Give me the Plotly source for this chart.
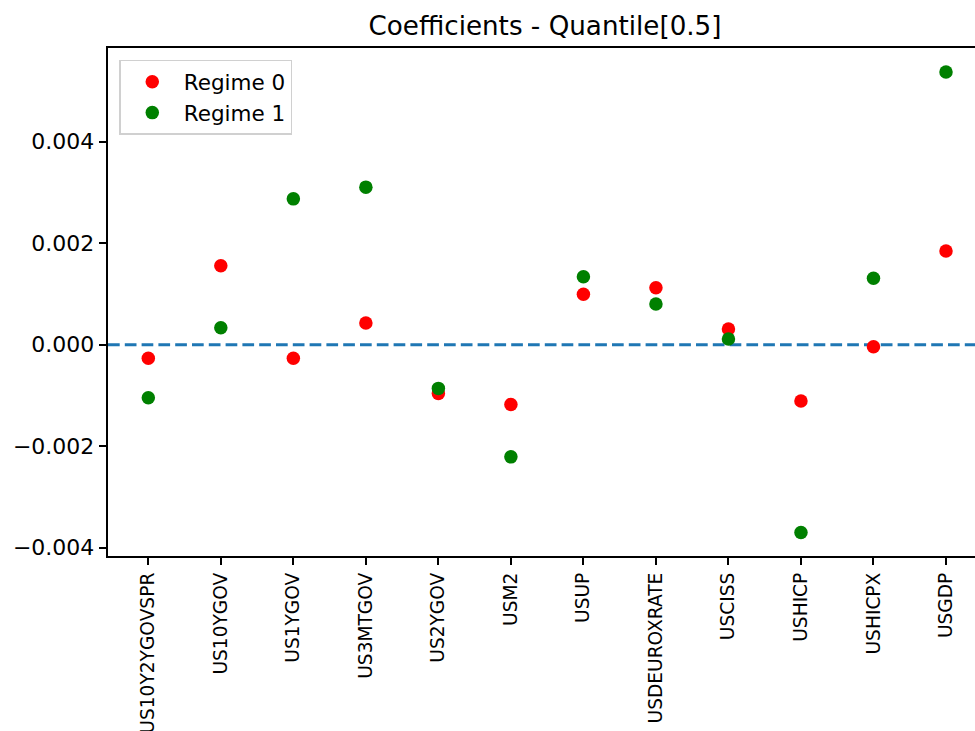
import plotly.graph_objects as go

# Regression coefficients at the median quantile, one column per predictor
variables = ["US10Y2YGOVSPR", "US10YGOV", "US1YGOV", "US3MTGOV", "US2YGOV", "USM2",
             "USUP", "USDEUROXRATE", "USCISS", "USHICP", "USHICPX", "USGDP"]
regime0 = [-0.000268, 0.001558, -0.000268, 0.000428, -0.000959, -0.001176,
           0.000994, 0.001124, 0.000310, -0.001110, -0.000040, 0.001848]
regime1 = [-0.001045, 0.000335, 0.002874, 0.003105, -0.000860, -0.002209,
           0.001341, 0.000803, 0.000112, -0.003700, 0.001310, 0.005373]
ytick_values = [-0.004, -0.002, 0.000, 0.002, 0.004]

positions = list(range(len(variables)))

fig = go.Figure()
fig.add_trace(go.Scatter(x=positions, y=regime0, mode="markers", name="Regime 0",
                         marker=dict(color="red", size=13.5, line=dict(width=0))))
fig.add_trace(go.Scatter(x=positions, y=regime1, mode="markers", name="Regime 1",
                         marker=dict(color="green", size=13.5, line=dict(width=0))))

# dashed reference line at zero across the whole axis
fig.add_shape(type="line", xref="paper", x0=0, x1=1, yref="y", y0=0, y1=0,
              line=dict(color="#1f77b4", width=3, dash="11.7px,5.1px"), layer="below")

fig.update_layout(
    width=975, height=731,
    margin=dict(l=108, r=0, t=48, b=175, autoexpand=False),
    paper_bgcolor="white", plot_bgcolor="white",
    font=dict(family="DejaVu Sans", color="black", size=21),
    title=dict(text="Coefficients - Quantile[0.5]", x=545 / 975, xanchor="center",
               y=1 - 26 / 731, yanchor="middle", font=dict(size=26.2, color="black")),
    showlegend=True,
    legend=dict(x=0.013, y=0.977, xanchor="left", yanchor="top",
                bgcolor="rgba(255,255,255,0.8)", bordercolor="#d0d0d0", borderwidth=1.5,
                font=dict(size=21.5), itemwidth=53, tracegroupgap=0),
)

fig.update_xaxes(
    range=[-0.556, 11.40], tickmode="array", tickvals=positions, ticktext=variables,
    tickangle=-90, tickfont=dict(size=18.6), showgrid=False, zeroline=False,
    showline=True, linecolor="black", linewidth=1.7, mirror=True, automargin=False,
    ticks="outside", ticklen=7.4, tickwidth=1.7, tickcolor="black",
)
fig.update_yaxes(
    range=[-0.004162, 0.005846], tickmode="array", tickvals=ytick_values,
    tickformat=".3f", tickfont=dict(size=22), showgrid=False, zeroline=False,
    showline=True, linecolor="black", linewidth=1.7, mirror=False, automargin=False,
    ticks="outside", ticklen=7.4, tickwidth=1.7, tickcolor="black",
)

fig.write_html("out.html")
